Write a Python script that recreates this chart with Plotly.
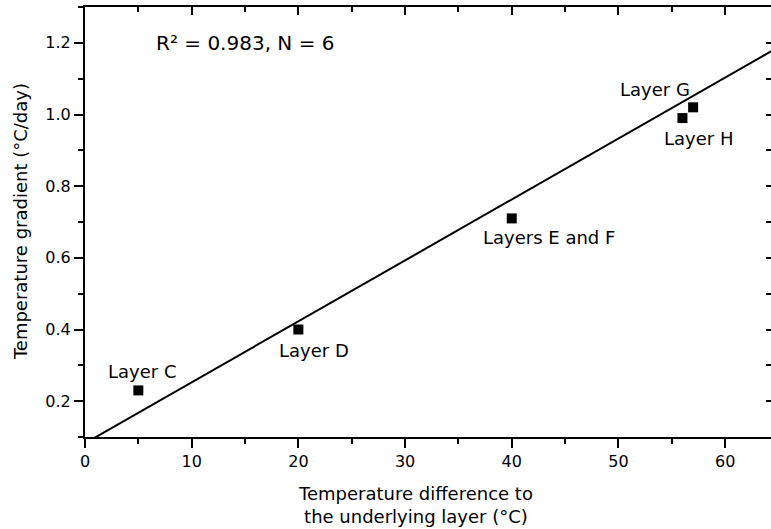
import plotly.graph_objects as go

# ---- data ----
layer_names = ["Layer C", "Layer D", "Layers E and F", "Layer G", "Layer H"]
temp_difference = [5, 20, 40, 57, 56]          # °C
temp_gradient = [0.23, 0.40, 0.71, 1.02, 0.99]  # °C/day
fit_slope = 0.01701
fit_intercept = 0.0825
fit_x = [0, 66]
fit_y = [fit_intercept + fit_slope * v for v in fit_x]
x_ticks = [0, 10, 20, 30, 40, 50, 60]
y_ticks = [0.2, 0.4, 0.6, 0.8, 1.0, 1.2]
stats_text = "R² = 0.983, N = 6"

# label offsets (pixels) relative to each point
label_dx = [3.5, 16, 37, -38, 16]
label_dy = [19, -21, -19, 18, -20]

X_RANGE = [0, 64.3]
Y_RANGE = [0.1, 1.3]
FONT = "DejaVu Sans"

fig = go.Figure()
fig.add_trace(go.Scatter(x=fit_x, y=fit_y, mode="lines",
                         line=dict(color="black", width=2), showlegend=False,
                         hoverinfo="skip"))
fig.add_trace(go.Scatter(x=temp_difference, y=temp_gradient, mode="markers",
                         marker=dict(symbol="square", size=10, color="black"),
                         showlegend=False, text=layer_names))
# dummy trace for mirrored axes
fig.add_trace(go.Scatter(x=[None], y=[None], xaxis="x2", yaxis="y2",
                         showlegend=False, hoverinfo="skip"))

for name, xv, yv, dx, dy in zip(layer_names, temp_difference, temp_gradient,
                                label_dx, label_dy):
    fig.add_annotation(x=xv, y=yv, xref="x", yref="y", text=name,
                       showarrow=False, xshift=dx, yshift=dy,
                       font=dict(family=FONT, size=18, color="black"))

fig.add_annotation(x=0.2337, y=0.916, xref="paper", yref="paper",
                   text=stats_text, showarrow=False,
                   xanchor="center", yanchor="middle",
                   font=dict(family=FONT, size=20, color="black"))

fig.add_annotation(x=0.4825, y=-0.1593, xref="paper", yref="paper",
                   text="Temperature difference to<br>the underlying layer (°C)",
                   showarrow=False, xanchor="center", yanchor="middle",
                   font=dict(family=FONT, size=18, color="black"))
fig.add_annotation(x=-0.0948, y=0.502, xref="paper", yref="paper",
                   text="Temperature gradient (°C/day)", textangle=-90,
                   showarrow=False, xanchor="center", yanchor="middle",
                   font=dict(family=FONT, size=18, color="black"))

axis_common = dict(showgrid=False, zeroline=False, linecolor="black",
                   linewidth=2, tickcolor="black", tickwidth=2)

fig.update_layout(
    width=771, height=529,
    margin=dict(l=85, r=0, t=7, b=92),
    paper_bgcolor="white", plot_bgcolor="white",
    font=dict(family=FONT, size=16, color="black"),
    xaxis=dict(range=X_RANGE, tickvals=x_ticks, ticks="outside", ticklen=9,
               showline=True, mirror=False,
               minor=dict(dtick=5, tick0=0, ticks="outside", ticklen=5,
                          tickwidth=2, tickcolor="black"),
               tickfont=dict(family=FONT, size=16), **axis_common),
    yaxis=dict(range=Y_RANGE, tickvals=y_ticks, ticks="outside", ticklen=9,
               showline=True, mirror=False,
               ticktext=[f"{v:.1f}" for v in y_ticks],
               minor=dict(dtick=0.1, tick0=0, ticks="outside", ticklen=5,
                          tickwidth=2, tickcolor="black"),
               tickfont=dict(family=FONT, size=16), **axis_common),
    xaxis2=dict(range=X_RANGE, overlaying="x", side="top", anchor="y2",
                tickvals=x_ticks, ticks="inside", ticklen=8, showline=True,
                showticklabels=False,
                minor=dict(dtick=5, tick0=0, ticks="inside", ticklen=5,
                           tickwidth=2, tickcolor="black"),
                **axis_common),
    yaxis2=dict(range=Y_RANGE, overlaying="y", side="right", anchor="x2",
                tickvals=y_ticks, ticks="inside", ticklen=5, showline=False,
                showticklabels=False,
                minor=dict(dtick=0.1, tick0=0, ticks="inside", ticklen=5,
                           tickwidth=2, tickcolor="black"),
                **axis_common),
)

fig.write_html("out.html")
